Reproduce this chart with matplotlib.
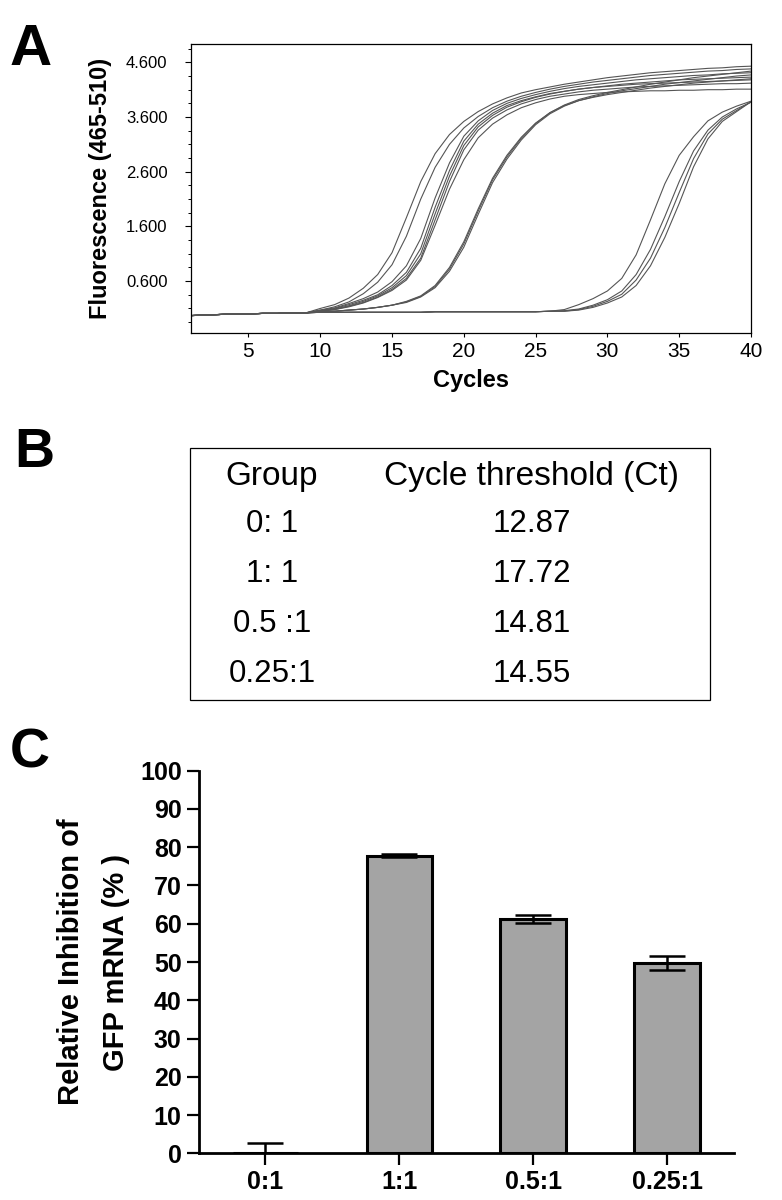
import numpy as np
import matplotlib
matplotlib.use('Agg')
import matplotlib.pyplot as plt
from matplotlib.ticker import FixedLocator, FormatStrFormatter
from matplotlib.patches import Rectangle

plt.rcParams['font.family'] = ['Liberation Sans', 'DejaVu Sans']

# ---- Panel A: amplification curves, fluorescence per cycle (1..40)
cycles = np.arange(1, 41)
base = [-0.03, -0.02, -0.01, 0.00, 0.00, 0.01, 0.01, 0.02, 0.02]

e1 = base + [0.10, 0.17, 0.29, 0.47, 0.72, 1.12, 1.76, 2.42, 2.93, 3.28, 3.52, 3.70, 3.84, 3.95, 4.04,
             4.10, 4.15, 4.20, 4.24, 4.28, 4.32, 4.35, 4.38, 4.41, 4.43, 4.45, 4.47, 4.49, 4.50, 4.52, 4.53]
e2 = base + [0.07, 0.13, 0.22, 0.37, 0.58, 0.90, 1.42, 2.10, 2.68, 3.10, 3.40, 3.61, 3.77, 3.89, 3.98,
             4.05, 4.11, 4.16, 4.20, 4.24, 4.27, 4.30, 4.33, 4.36, 4.38, 4.40, 4.42, 4.44, 4.45, 4.47, 4.48]
b1 = base + [0.07, 0.11, 0.19, 0.28, 0.40, 0.59, 0.88, 1.38, 2.12, 2.76, 3.25, 3.53, 3.72, 3.85, 3.94,
             4.01, 4.07, 4.12, 4.16, 4.19, 4.22, 4.25, 4.28, 4.30, 4.32, 4.34, 4.36, 4.37, 4.39, 4.40, 4.41]
b2 = base + [0.06, 0.10, 0.17, 0.25, 0.35, 0.52, 0.76, 1.20, 1.95, 2.62, 3.16, 3.47, 3.67, 3.81, 3.90,
             3.97, 4.03, 4.07, 4.11, 4.14, 4.17, 4.20, 4.22, 4.24, 4.26, 4.28, 4.29, 4.30, 4.31, 4.32, 4.33]
b3 = base + [0.05, 0.09, 0.15, 0.23, 0.33, 0.48, 0.70, 1.10, 1.83, 2.52, 3.08, 3.42, 3.63, 3.78, 3.88,
             3.96, 4.02, 4.07, 4.11, 4.14, 4.16, 4.18, 4.20, 4.21, 4.22, 4.23, 4.24, 4.25, 4.26, 4.27, 4.28]
b4 = base + [0.05, 0.08, 0.14, 0.21, 0.31, 0.45, 0.65, 1.02, 1.72, 2.42, 3.00, 3.36, 3.58, 3.73, 3.84,
             3.92, 3.98, 4.02, 4.06, 4.09, 4.11, 4.13, 4.15, 4.16, 4.17, 4.18, 4.19, 4.20, 4.21, 4.21, 4.22]
b5 = base + [0.05, 0.08, 0.13, 0.20, 0.30, 0.43, 0.62, 0.98, 1.62, 2.28, 2.82, 3.22, 3.47, 3.64, 3.77,
             3.86, 3.93, 3.98, 4.01, 4.03, 4.05, 4.06, 4.07, 4.08, 4.08, 4.09, 4.09, 4.10, 4.10, 4.11, 4.11]
g1 = base + [0.04, 0.05, 0.07, 0.09, 0.12, 0.16, 0.22, 0.32, 0.50, 0.82, 1.28, 1.88, 2.45, 2.87, 3.21,
             3.48, 3.68, 3.82, 3.92, 3.99, 4.05, 4.10, 4.15, 4.20, 4.24, 4.28, 4.32, 4.35, 4.38, 4.41, 4.44]
g2 = base + [0.04, 0.05, 0.07, 0.09, 0.12, 0.16, 0.21, 0.31, 0.48, 0.78, 1.22, 1.82, 2.40, 2.83, 3.18,
             3.46, 3.66, 3.80, 3.90, 3.97, 4.03, 4.08, 4.12, 4.16, 4.20, 4.23, 4.26, 4.29, 4.32, 4.35, 4.37]
g3 = base + [0.04, 0.05, 0.07, 0.09, 0.12, 0.16, 0.23, 0.33, 0.52, 0.85, 1.32, 1.92, 2.48, 2.90, 3.23,
             3.49, 3.68, 3.81, 3.90, 3.96, 4.01, 4.05, 4.09, 4.13, 4.16, 4.19, 4.22, 4.24, 4.26, 4.28, 4.30]
late_base = base + [0.03, 0.03, 0.03, 0.03, 0.03, 0.03, 0.03, 0.03, 0.04, 0.04, 0.04, 0.04, 0.04, 0.04, 0.04,
                    0.04, 0.05]
f1 = late_base + [0.08, 0.17, 0.28, 0.42, 0.65, 1.08, 1.72, 2.38, 2.90, 3.24, 3.53, 3.69, 3.80, 3.89]
f2 = late_base + [0.06, 0.09, 0.16, 0.26, 0.42, 0.72, 1.18, 1.78, 2.42, 2.98, 3.36, 3.60, 3.75, 3.87]
f3 = late_base + [0.05, 0.08, 0.14, 0.23, 0.36, 0.62, 1.02, 1.58, 2.22, 2.84, 3.29, 3.56, 3.72, 3.88]
f4 = late_base + [0.05, 0.07, 0.12, 0.20, 0.31, 0.52, 0.88, 1.40, 2.02, 2.69, 3.20, 3.52, 3.70, 3.88]
curves = [e1, e2, b1, b2, b3, b4, b5, g1, g2, g3, f1, f2, f3, f4]

# ---- Panel B: Ct table
groups_b = ['0: 1', '1: 1', '0.5 :1', '0.25:1']
ct_values = ['12.87', '17.72', '14.81', '14.55']

# ---- Panel C: relative inhibition
groups_c = ['0:1', '1:1', '0.5:1', '0.25:1']
inhibition = [0.0, 77.8, 61.3, 49.8]
inhibition_err = [2.8, 0.4, 1.1, 1.8]

fig = plt.figure(figsize=(7.82, 12), dpi=100)
W, H = 782, 1200

def px(x0, y0, x1, y1):
    return [x0 / W, 1 - y1 / H, (x1 - x0) / W, (y1 - y0) / H]

# Panel A
axA = fig.add_axes(px(191, 44.3, 751, 333.3))
for c in curves:
    axA.plot(cycles, c, color='#555555', lw=0.8)
axA.set_xlim(1, 40)
axA.set_ylim(-0.354, 4.93)
axA.xaxis.set_major_locator(FixedLocator([5, 10, 15, 20, 25, 30, 35, 40]))
axA.yaxis.set_major_locator(FixedLocator([0.6, 1.6, 2.6, 3.6, 4.6]))
axA.yaxis.set_minor_locator(FixedLocator(np.arange(-0.15, 4.9, 0.25)))
axA.yaxis.set_major_formatter(FormatStrFormatter('%.3f'))
for s in axA.spines.values():
    s.set_linewidth(0.9)
axA.tick_params(axis='x', direction='out', length=3, width=0.8, pad=3, labelsize=15)
axA.tick_params(axis='y', which='major', direction='out', length=4, width=0.8, pad=13, labelsize=12)
axA.tick_params(axis='y', which='minor', direction='out', length=2.5, width=0.7)
axA.set_xlabel('Cycles', fontsize=17, fontweight='bold', va='top')
axA.xaxis.set_label_coords(0.5, -0.123)
axA.set_ylabel('Fluorescence (465-510)', fontsize=17, fontweight='bold', va='center')
axA.yaxis.set_label_coords(-0.162, 0.5)

# Panel B table
fig.add_artist(Rectangle((190 / W, 1 - 700 / H), 520 / W, 252 / H, transform=fig.transFigure,
                         fill=False, edgecolor='black', lw=0.9))
fig.text(272 / W, 1 - 476.7 / H, 'Group', fontsize=24, ha='center', va='center')
fig.text(532 / W, 1 - 476.7 / H, 'Cycle threshold (Ct)', fontsize=24, ha='center', va='center')
for i, (g, ct) in enumerate(zip(groups_b, ct_values)):
    yy = 1 - (524 + 50 * i) / H
    fig.text(272 / W, yy, g, fontsize=22.5, ha='center', va='center')
    fig.text(532 / W, yy, ct, fontsize=22.5, ha='center', va='center')

# Panel C
axC = fig.add_axes(px(198.5, 770.7, 734, 1153.3))
xpos = np.arange(len(groups_c))
axC.bar(xpos, inhibition, width=0.49, color='#a4a4a4', edgecolor='black', linewidth=2.2, zorder=2)
axC.errorbar(xpos, inhibition, yerr=inhibition_err, fmt='none', ecolor='black', elinewidth=1.8,
             capsize=13, capthick=1.8, zorder=3)
axC.set_xlim(-0.5, 3.5)
axC.set_ylim(0, 100)
axC.set_yticks(np.arange(0, 101, 10))
axC.set_xticks(xpos)
axC.set_xticklabels(groups_c)
axC.spines['top'].set_visible(False)
axC.spines['right'].set_visible(False)
axC.spines['left'].set_linewidth(2)
axC.spines['bottom'].set_linewidth(2)
axC.tick_params(axis='both', direction='out', length=8.6, width=1.6, labelsize=18, pad=3.5)
for lab in axC.get_xticklabels() + axC.get_yticklabels():
    lab.set_fontweight('bold')
axC.set_ylabel('Relative Inhibition of\nGFP mRNA (% )', fontsize=21, fontweight='bold',
               va='center', linespacing=1.75)
axC.yaxis.set_label_coords(-0.196, 0.5)

# panel letters
fig.text(10 / W, 1 - 65 / H, 'A', fontsize=42, fontweight='bold', ha='left', va='baseline')
fig.text(14 / W, 1 - 467 / H, 'B', fontsize=40, fontweight='bold', ha='left', va='baseline')
fig.text(10 / W, 1 - 767 / H, 'C', fontsize=40, fontweight='bold', ha='left', va='baseline')

fig.savefig('out.png', dpi=100)
